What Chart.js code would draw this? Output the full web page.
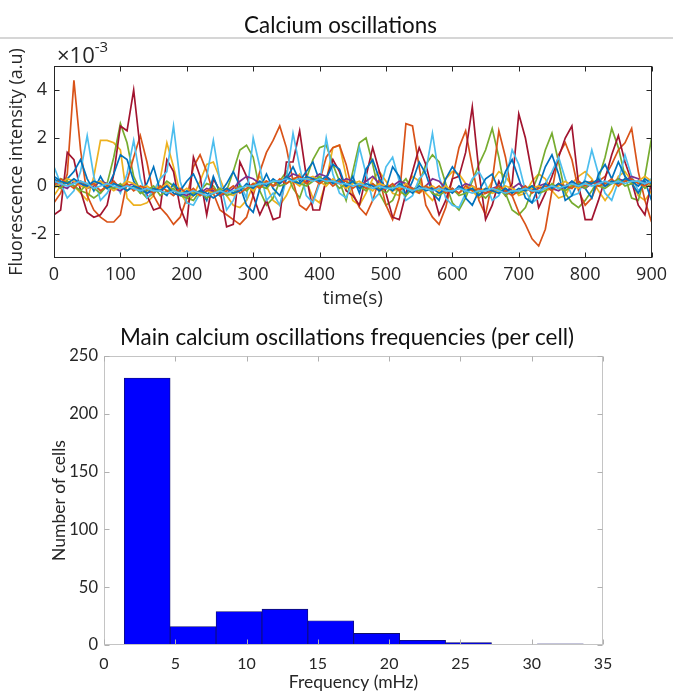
<!DOCTYPE html>
<html>
<head>
<meta charset="utf-8">
<script src="https://cdn.jsdelivr.net/npm/chart.js@4.4.1/dist/chart.umd.min.js"></script>
<style>
  html, body { margin: 0; padding: 0; background: #fff; }
  body { width: 673px; height: 693px; position: relative; overflow: hidden; font-family: Lato, sans-serif; color: #111; }
  .title { position: absolute; text-align: center; white-space: nowrap; }
  #title1 { left: 4px; width: 673px; top: 11px; font-size: 22.4px; }
  #rule { position: absolute; left: 0; top: 37px; width: 673px; border-top: 2px solid #d6d6d6; }
  #title2 { left: 0; width: 694px; top: 323px; font-size: 22.5px; }
  #c1 { position: absolute; left: 0; top: 0; }
  #c2 { position: absolute; left: 0; top: 310px; }
</style>
</head>
<body>
<canvas id="c1" width="673" height="310"></canvas>
<canvas id="c2" width="673" height="383"></canvas>
<div class="title" id="title1">Calcium oscillations</div>
<div id="rule"></div>
<div class="title" id="title2">Main calcium oscillations frequencies (per cell)</div>

<script>
// ---- top chart: fluorescence traces (units of 1e-3 a.u), one sample every 10 s ----
const sampleStep = 10;
const yTicksTop = [-2, 0, 2, 4];

const traceOrange = [-0.7,-0.3,0.5,4.4,1.5,-0.4,-1.0,-1.3,-1.5,-1.5, -1.2,0.2,1.2,2.1,1.0,-0.4,-0.9,-1.2,-1.6,-1.3,
  -0.5,0.8,1.3,0.6,-0.3,-1.0,-1.2,-1.4,-1.6,-1.3, -0.4,0.6,1.4,1.9,2.5,1.6,0.2,-0.8,-1.0,-0.6,
  0.2,1.2,1.6,1.7,0.9,-0.3,-0.9,-1.2,-0.6,0.3, -0.8,-1.4,-0.5,2.6,2.5,0.8,-0.8,-1.3,-1.6,-0.9,
  0.3,1.6,2.3,0.8,-0.6,-1.2,0.2,2.3,1.2,-0.4, -1.1,-1.6,-2.2,-2.5,-1.8,-0.2,1.3,1.8,1.1,-0.2,
  -0.8,-0.5,0.2,0.4,0.9,1.5,1.8,2.4,0.6,-0.6, -1.5];
const traceDarkRed = [-1.2,-1.0,1.4,1.1,-0.2,-1.1,-1.3,-1.2,-0.8,0.5, 2.5,2.3,4.0,1.5,-0.4,-1.0,-0.9,1.1,0.6,-0.9,
  -1.6,1.2,0.4,-1.2,0.3,-0.2,-1.7,-1.6,1.0,0.4, -0.4,-1.2,-0.6,-1.4,-1.3,1.0,1.0,2.3,0.4,-1.0,
  -1.0,0.3,1.1,0.6,-0.2,-0.4,-0.8,0.4,1.6,0.6, -0.3,-1.3,-1.4,-0.3,0.6,1.6,0.9,-0.2,-1.2,-0.6,
  0.3,0.4,1.4,3.3,0.6,-1.4,-0.8,0.2,-0.4,0.1, 3.0,2.0,0.5,-0.9,-0.3,0.4,1.2,2.0,2.5,0.1,
  -1.4,-1.4,-0.6,0.3,1.3,2.1,1.0,0.2,-0.8,-1.2, 0.2];
const traceGreen = [0.1,0.3,0.2,0.0,-0.2,-0.3,-0.5,-0.3,0.1,1.2, 2.6,1.8,0.4,-0.2,-0.5,-0.3,-0.1,0.2,0.0,-0.3,
  -0.5,-0.6,-0.2,0.1,0.0,-0.4,-0.2,0.6,1.5,1.7, 1.2,-0.2,-0.8,-0.5,0.2,0.6,-0.1,-0.5,0.3,1.1,
  1.6,1.7,0.9,0.2,-0.6,0.6,1.8,2.0,0.9,-0.3, -0.8,-0.6,0.0,0.3,-0.2,0.1,0.9,1.3,1.0,0.1,
  -0.7,-1.0,-0.5,0.2,0.9,1.5,2.4,1.2,-0.3,-1.0, -1.2,-0.9,-0.2,0.5,1.5,2.2,1.0,-0.3,-0.7,-0.9,
  -0.6,-0.2,0.3,1.2,2.4,1.6,0.4,-0.5,-0.6,0.4, 2.0];
const traceLightBlue = [0.8,0.1,-0.5,-0.2,0.6,2.1,0.4,-0.6,-0.3,0.2, -0.3,0.5,1.9,0.3,-0.5,-0.2,0.3,0.6,2.5,0.2,
  -0.7,-0.8,-0.3,0.4,1.9,0.2,-1.0,-0.6,0.1,-0.5, 2.0,0.8,-0.6,-0.3,-0.8,0.3,2.2,0.8,-0.4,-0.7,
  0.1,2.0,0.5,-0.3,-0.5,0.2,1.6,0.5,-0.6,-0.3, 0.8,1.2,0.2,-0.6,-0.4,0.3,0.6,2.2,0.4,-0.5,
  -0.8,-0.9,-0.3,0.3,0.6,0.1,-0.6,-0.4,0.2,1.5, 0.9,-0.2,-0.7,-0.5,0.1,0.6,1.2,0.3,-0.4,-0.3,
  0.3,1.5,0.5,-0.3,-0.6,0.2,1.3,0.4,-0.2,0.1, 0.3];
const traceBlue = [0.3,0.1,0.3,0.6,1.1,0.3,-0.2,0.4,-0.1,0.5, 1.3,1.1,0.2,-0.3,0.1,0.8,-0.2,-0.4,0.1,-0.2,
  0.2,0.5,-0.1,-0.6,0.4,-0.3,0.1,0.6,0.0,-0.8, -1.1,-0.1,0.5,-0.1,-0.4,0.3,0.8,0.2,0.6,1.0,
  0.2,0.3,0.9,0.7,-0.1,0.4,-0.3,0.7,1.1,0.3, -0.1,0.8,0.4,-0.4,0.2,1.0,0.5,-0.3,-0.6,0.3,
  0.8,0.4,-0.5,-0.8,-0.2,0.3,0.5,-0.2,0.6,1.1, 0.3,-0.5,-0.7,0.0,0.8,1.3,0.5,-0.6,-0.4,0.2,
  -0.1,-0.5,0.5,0.9,0.3,1.0,0.4,0.1,-0.3,0.2, -0.6];
const traceYellow = [-0.4,0.0,0.2,0.0,-0.3,-0.6,0.4,1.9,1.9,1.8, 1.5,-0.5,-0.8,-0.8,-0.7,-0.4,0.3,1.8,0.8,-0.3,
  -0.7,-0.4,0.2,0.9,1.0,0.3,-0.4,-0.8,-0.9,-0.6, 0.0,0.4,0.0,-0.6,-0.8,-0.4,0.2,0.5,0.2,-0.5,
  -0.7,0.2,1.6,1.7,0.4,-0.6,-0.8,-0.3,0.3,0.6, 0.2,-0.3,-0.4,0.0,0.4,0.2,-0.3,-0.6,-0.2,0.3,
  0.6,0.5,0.1,-0.2,-0.5,-0.3,0.2,0.6,0.4,0.0, -0.4,-0.3,0.2,0.5,0.3,-0.2,-0.5,-0.4,0.1,0.4,
  0.6,0.3,-0.2,-0.6,-0.2,0.4,0.6,0.2,-0.4,-0.6, -0.2];
const tracePurple = [0.2,0.0,-0.1,0.2,0.1,-0.1,0.0,0.2,0.1,-0.1, -0.2,0.0,0.1,-0.1,-0.3,-0.2,-0.1,0.0,-0.2,-0.3,
  -0.4,-0.2,-0.3,-0.1,-0.2,-0.4,-0.3,-0.1,0.2,0.4, 0.3,0.1,0.2,0.0,0.1,0.3,0.5,0.4,0.2,0.3,
  0.5,0.4,0.2,0.1,0.3,0.2,0.0,0.2,0.4,0.1, -0.1,0.0,0.2,0.1,-0.1,-0.2,0.0,0.3,0.2,-0.1,
  -0.2,-0.1,0.1,0.0,-0.2,-0.3,-0.1,0.0,-0.2,-0.1, 0.1,-0.1,-0.2,0.0,0.1,-0.1,-0.2,0.0,0.2,0.0,
  -0.1,0.1,0.2,0.0,0.1,0.3,0.2,0.4,0.3,0.1, 0.2];
// quieter cells that make up the band around zero
const quietLightBlue = [0.2,0.1,0.0,0.1,0.2,0.1,-0.1,0.0,0.1,0.0, -0.1,0.0,-0.1,-0.2,-0.1,-0.2,-0.2,-0.3,-0.2,-0.3,
  -0.3,-0.2,-0.3,-0.4,-0.3,-0.2,-0.3,-0.2,-0.1,0.0, 0.0,0.1,0.1,0.2,0.2,0.3,0.2,0.3,0.3,0.2,
  0.3,0.2,0.2,0.1,0.1,0.0,0.1,0.0,-0.1,0.0, -0.1,-0.1,0.0,-0.1,-0.2,-0.1,-0.1,-0.2,-0.1,-0.2,
  -0.2,-0.1,-0.2,-0.3,-0.2,-0.2,-0.1,-0.2,-0.3,-0.2, -0.2,-0.1,-0.2,-0.2,-0.1,0.0,-0.1,0.0,0.1,0.0,
  0.1,0.0,0.1,0.2,0.1,0.2,0.1,0.2,0.2,0.1, 0.2];
const quietBlue = [0.4,0.2,0.1,0.3,0.1,0.0,0.2,0.1,-0.1,0.1, 0.0,-0.2,0.0,-0.1,-0.3,-0.1,-0.2,0.0,-0.3,-0.4,
  -0.2,-0.4,-0.2,-0.3,-0.5,-0.3,-0.1,-0.3,-0.2,0.1, -0.1,0.2,0.0,0.3,0.1,0.4,0.2,0.1,0.4,0.3,
  0.2,0.4,0.1,0.3,0.0,0.2,-0.1,0.1,0.0,-0.2, 0.0,-0.2,0.1,-0.1,-0.3,0.0,-0.2,-0.1,-0.3,-0.1,
  -0.3,0.0,-0.2,-0.1,-0.4,-0.1,-0.2,-0.3,-0.1,-0.3, -0.1,-0.2,0.0,-0.3,0.1,-0.1,0.1,-0.1,0.2,0.0,
  0.2,0.1,0.3,0.0,0.2,0.1,0.3,0.2,0.0,0.3, 0.1];
const quietOrange = [0.0,0.3,0.1,-0.1,0.2,0.0,0.1,-0.2,0.0,0.2, -0.1,0.1,-0.2,0.0,-0.1,-0.3,0.0,-0.2,-0.4,-0.1,
  -0.3,-0.1,-0.4,-0.2,-0.1,-0.4,-0.2,0.0,-0.3,-0.1, 0.1,-0.1,0.2,0.0,0.3,0.1,0.3,0.4,0.1,0.3,
  0.1,0.3,0.0,0.2,0.2,-0.1,0.1,-0.1,0.1,-0.2, -0.1,0.1,-0.2,0.0,-0.1,-0.3,0.0,-0.2,0.0,-0.3,
  -0.1,-0.3,0.0,-0.2,-0.1,-0.3,-0.2,0.0,-0.2,-0.4, -0.2,0.0,-0.3,-0.1,0.0,-0.2,0.1,0.0,-0.1,0.2,
  0.0,0.2,0.0,0.1,0.3,0.0,0.2,0.3,0.1,0.0, 0.2];
const quietGreen = [0.1,-0.1,0.2,0.0,-0.2,0.1,-0.1,-0.3,0.0,-0.1, 0.1,-0.2,0.0,-0.3,-0.2,0.0,-0.4,-0.2,-0.1,-0.4,
  -0.5,-0.3,-0.2,-0.5,-0.3,-0.1,-0.4,-0.3,0.0,-0.2, 0.1,0.0,-0.1,0.2,0.0,0.1,0.3,0.1,0.0,0.2,
  0.4,0.1,0.2,-0.1,0.1,0.2,0.0,-0.2,0.1,-0.1, -0.3,0.0,-0.2,-0.4,-0.1,-0.2,0.0,-0.3,-0.4,-0.2,
  -0.1,-0.4,-0.3,-0.1,-0.3,-0.5,-0.2,-0.1,-0.4,-0.2, -0.3,-0.1,0.0,-0.3,-0.2,0.1,-0.1,-0.2,0.0,0.1,
  -0.1,0.2,0.0,-0.1,0.1,0.3,0.0,0.1,0.2,-0.1, 0.1];
const quietYellow = [-0.1,0.1,0.3,0.2,0.0,-0.1,0.1,0.2,0.0,-0.2, 0.0,0.2,0.1,-0.1,0.0,-0.2,-0.1,0.1,-0.2,-0.3,
  -0.1,-0.3,-0.4,-0.2,-0.3,-0.1,-0.3,-0.4,-0.1,0.0, -0.2,0.1,0.2,0.0,0.2,0.4,0.2,0.0,0.3,0.4,
  0.2,0.0,0.3,0.1,-0.1,0.1,0.2,0.0,-0.2,0.1, 0.0,-0.2,-0.1,0.1,-0.2,-0.3,-0.1,0.0,-0.2,0.0,
  -0.2,-0.3,-0.1,0.0,-0.2,-0.1,-0.3,-0.2,0.0,-0.1, -0.3,-0.2,-0.1,0.0,-0.2,-0.1,0.0,0.2,0.0,-0.1,
  0.1,0.2,0.0,0.1,0.2,0.0,0.3,0.1,0.2,0.4, 0.2];

// ---- bottom chart: histogram of main frequency per cell ----
const binEdges = [1.42, 4.64, 7.86, 11.08, 14.30, 17.52, 20.74, 23.96, 27.18, 30.40, 33.62];
const cellCounts = [231, 16, 29, 31, 21, 10, 4, 2, 0, 1];

const MATLAB = {
  blue: '#0072BD', orange: '#D95319', yellow: '#EDB120', purple: '#7E2F8E',
  green: '#77AC30', lightBlue: '#4DBEEE', darkRed: '#A2142F'
};

function toPoints(vals) {
  return vals.map((v, i) => ({ x: i * sampleStep, y: v }));
}
function trace(vals, color) {
  return { data: toPoints(vals), borderColor: color, borderWidth: 1.7, pointRadius: 0, tension: 0, fill: false };
}

// box around the plot with inward ticks on all four sides (MATLAB style)
const boxTicks = {
  id: 'boxTicks',
  afterDraw(chart, args, opts) {
    const { ctx, chartArea: a, scales: { x, y } } = chart;
    const L = Math.round(a.left) + 0.5, R = Math.round(a.right) - 0.5;
    const T = Math.round(a.top) + 0.5, B = Math.round(a.bottom) - 0.5;
    ctx.save();
    ctx.strokeStyle = opts.color;
    ctx.lineWidth = 1;
    ctx.strokeRect(L, T, R - L, B - T);
    ctx.strokeStyle = opts.tickColor || opts.color;
    ctx.beginPath();
    x.ticks.forEach(t => {
      const px = Math.round(x.getPixelForValue(t.value)) + 0.5;
      ctx.moveTo(px, B); ctx.lineTo(px, B - opts.len);
      ctx.moveTo(px, T); ctx.lineTo(px, T + opts.len);
    });
    y.ticks.forEach(t => {
      const py = Math.round(y.getPixelForValue(t.value)) + 0.5;
      ctx.moveTo(L, py); ctx.lineTo(L + opts.len, py);
      ctx.moveTo(R, py); ctx.lineTo(R - opts.len, py);
    });
    ctx.stroke();
    if (opts.exponent) {
      ctx.fillStyle = '#262626';
      ctx.textBaseline = 'alphabetic';
      ctx.font = '22px "Open Sans"';
      ctx.fillText('\u00d710', a.left + 3, a.top - 3);
      const w = ctx.measureText('\u00d710').width;
      ctx.font = '15px "Open Sans"';
      ctx.fillText(opts.exponent, a.left + 3 + w, a.top - 14);
    }
    ctx.restore();
  }
};

function drawCharts() {
  const traces = [
    trace(quietLightBlue, MATLAB.lightBlue),
    trace(quietBlue, MATLAB.blue),
    trace(quietOrange, MATLAB.orange),
    trace(quietGreen, MATLAB.green),
    trace(quietYellow, MATLAB.yellow),
    trace(tracePurple, MATLAB.purple),
    trace(traceBlue, MATLAB.blue),
    trace(traceLightBlue, MATLAB.lightBlue),
    trace(traceDarkRed, MATLAB.darkRed),
    trace(traceOrange, MATLAB.orange),
    trace(traceGreen, MATLAB.green),
    trace(traceYellow, MATLAB.yellow)
  ];

  new Chart(document.getElementById('c1'), {
    type: 'line',
    data: { datasets: traces },
    options: {
      responsive: false,
      animation: false,
      layout: { padding: { top: 66, right: 17, left: 0, bottom: 0 } },
      plugins: {
        legend: { display: false },
        tooltip: { enabled: false },
        boxTicks: { color: '#262626', len: 5, exponent: '-3' }
      },
      scales: {
        x: {
          type: 'linear', min: 0, max: 900,
          ticks: { stepSize: 100, padding: 6, color: '#262626', font: { family: 'Open Sans', size: 18 }, maxRotation: 0 },
          grid: { display: false, drawTicks: false },
          border: { display: false },
          title: { display: true, text: 'time(s)', color: '#262626', font: { family: 'Open Sans', size: 19 }, padding: { top: 0, bottom: 0 } },
          afterFit(s) { s.height = 52; }
        },
        y: {
          min: -3, max: 5,
          afterBuildTicks(s) { s.ticks = yTicksTop.map(v => ({ value: v })); },
          ticks: { padding: 7, color: '#262626', font: { family: 'Open Sans', size: 18 } },
          grid: { display: false, drawTicks: false },
          border: { display: false },
          title: { display: true, text: 'Fluorescence intensity (a.u)', color: '#262626', font: { family: 'Open Sans', size: 18 }, padding: { top: 6, bottom: 0 } },
          afterFit(s) { s.width = 54; }
        }
      }
    },
    plugins: [boxTicks]
  });

  const binCenters = cellCounts.map((_, i) => (binEdges[i] + binEdges[i + 1]) / 2);

  new Chart(document.getElementById('c2'), {
    type: 'bar',
    data: {
      datasets: [{
        data: cellCounts.map((c, i) => ({ x: binCenters[i], y: c })),
        backgroundColor: '#0000FF',
        borderColor: '#10106a',
        borderWidth: 0.8,
        borderSkipped: false,
        barPercentage: 1,
        categoryPercentage: 1
      }]
    },
    options: {
      responsive: false,
      animation: false,
      layout: { padding: { top: 46, right: 70, left: 0, bottom: 0 } },
      plugins: {
        legend: { display: false },
        tooltip: { enabled: false },
        boxTicks: { color: '#c4c4c4', tickColor: '#b0b0b0', len: 5 }
      },
      scales: {
        x: {
          type: 'linear', min: 0, max: 35, offset: false,
          ticks: { stepSize: 5, padding: 9, color: '#262626', font: { family: 'Lato', size: 16 }, maxRotation: 0 },
          grid: { display: false, drawTicks: false, offset: false },
          border: { display: false },
          title: { display: true, text: 'Frequency (mHz)', color: '#262626', font: { family: 'Lato', size: 17.5 }, padding: { top: 0, bottom: 0 } },
          afterFit(s) { s.height = 48; }
        },
        y: {
          min: 0, max: 250,
          ticks: { stepSize: 50, padding: 6, color: '#262626', font: { family: 'Lato', size: 16.5 } },
          grid: { display: false, drawTicks: false },
          border: { display: false },
          title: { display: true, text: 'Number of cells', color: '#262626', font: { family: 'Lato', size: 17.5 }, padding: { top: 49, bottom: 0 } },
          afterFit(s) { s.width = 104; }
        }
      }
    },
    plugins: [boxTicks]
  });
}

Promise.all([
  document.fonts.load('18px "Open Sans"'),
  document.fonts.load('17px Lato')
]).then(drawCharts, drawCharts);
</script>
</body>
</html>
